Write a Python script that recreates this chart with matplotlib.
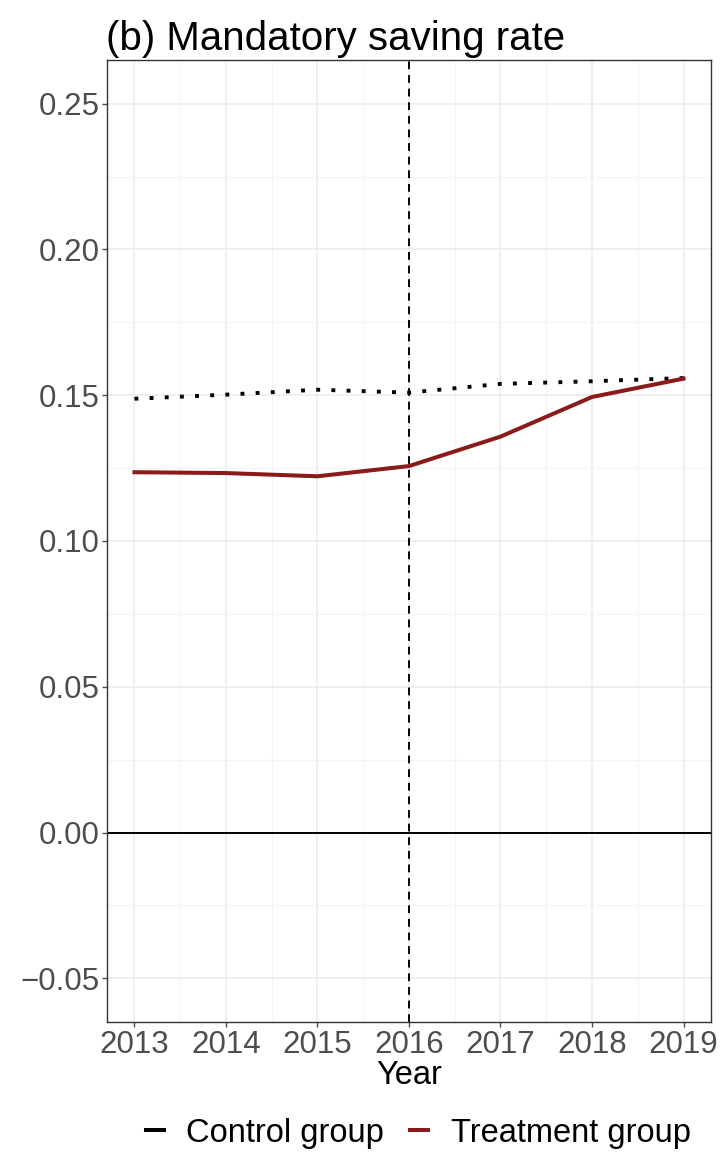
import matplotlib
matplotlib.use("Agg")
import matplotlib.pyplot as plt
from matplotlib.ticker import MultipleLocator
from matplotlib.lines import Line2D

plt.rcParams['font.family'] = ['Liberation Sans', 'DejaVu Sans']

years = [2013, 2014, 2015, 2016, 2017, 2018, 2019]
control = [0.1488, 0.1502, 0.1519, 0.1509, 0.1539, 0.1548, 0.1559]
treatment = [0.1236, 0.1233, 0.1222, 0.1257, 0.1358, 0.1494, 0.1557]
yticks = [-0.05, 0.00, 0.05, 0.10, 0.15, 0.20, 0.25]
ytick_labels = ['\u22120.05', '0.00', '0.05', '0.10', '0.15', '0.20', '0.25']
event_year = 2016

red = '#8B1A1A'

fig = plt.figure(figsize=(7.24, 11.54), dpi=100)
ax = fig.add_axes([0.1478, 0.1144, 0.8342, 0.8336])

ax.plot(years, control, color='black', lw=2.8, linestyle=(0, (1, 2.9)), zorder=3)
ax.plot(years, treatment, color=red, lw=2.9, zorder=4)
ax.axhline(0, color='black', lw=1.4, zorder=2)
ax.axvline(event_year, color='black', lw=1.4, linestyle=(0, (4, 3)), zorder=2)

ax.set_xlim(2012.7, 2019.3)
ax.set_ylim(-0.065, 0.265)
ax.set_xticks(years)
ax.set_yticks(yticks)
ax.set_yticklabels(ytick_labels)
ax.xaxis.set_minor_locator(MultipleLocator(0.5))
ax.yaxis.set_minor_locator(MultipleLocator(0.025))

ax.grid(which='major', color='#EBEBEB', lw=1.1)
ax.grid(which='minor', color='#F4F4F4', lw=0.8)
ax.set_axisbelow(True)

ax.tick_params(which='major', labelsize=22.5, colors='#4D4D4D', length=3.5,
               width=1, pad=2)
ax.tick_params(which='minor', length=0)
for s in ax.spines.values():
    s.set_color('#333333')
    s.set_linewidth(1)

ax.set_xlabel('Year', fontsize=23.5, labelpad=0)
ax.set_title('(b) Mandatory saving rate', fontsize=29, loc='left', x=-0.002, pad=7)

handles = [Line2D([0], [0], color='black', lw=2.9),
           Line2D([0], [0], color=red, lw=2.9)]
fig.legend(handles, ['Control group', 'Treatment group'], loc='center',
           bbox_to_anchor=(0.578, 0.018), ncol=2, frameon=False, fontsize=23.5,
           handlelength=0.55, handletextpad=0.7, columnspacing=0.8)

fig.savefig('out.png', dpi=100)
